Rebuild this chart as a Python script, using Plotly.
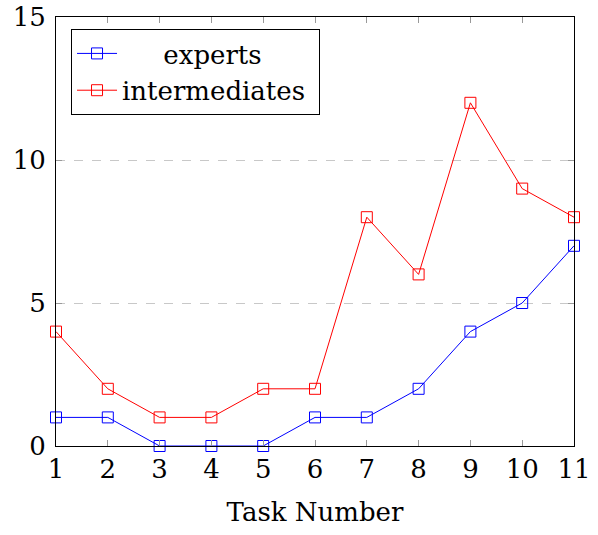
import plotly.graph_objects as go

tasks = [1, 2, 3, 4, 5, 6, 7, 8, 9, 10, 11]
experts = [1, 1, 0, 0, 0, 1, 1, 2, 4, 5, 7]
intermediates = [4, 2, 1, 1, 2, 2, 8, 6, 12, 9, 8]
series_names = ["\u00a0\u00a0\u00a0\u00a0\u00a0experts", "intermediates\u00a0"]

FONT = "DejaVu Serif"
FS = 26

fig = go.Figure()
fig.add_trace(go.Scatter(x=tasks, y=experts, name=series_names[0], mode="lines+markers",
                         line=dict(color="blue", width=1),
                         marker=dict(symbol="square-open", size=11, color="blue", line=dict(width=1)),
                         cliponaxis=False))
fig.add_trace(go.Scatter(x=tasks, y=intermediates, name=series_names[1], mode="lines+markers",
                         line=dict(color="red", width=1),
                         marker=dict(symbol="square-open", size=11, color="red", line=dict(width=1)),
                         cliponaxis=False))

fig.update_layout(
    width=598, height=535,
    margin=dict(l=56, r=24, t=17, b=89),
    paper_bgcolor="white", plot_bgcolor="white",
    font=dict(family=FONT, size=FS, color="black"),
    showlegend=True,
    legend=dict(x=0.029, y=0.972, xanchor="left", yanchor="top",
                bordercolor="black", borderwidth=1, bgcolor="white",
                font=dict(family=FONT, size=FS), tracegroupgap=0, itemwidth=40),
    xaxis=dict(range=[1, 11], tickvals=tasks, ticks="inside", ticklen=6, tickcolor="#999",
               showline=True, linecolor="black", linewidth=1, mirror="ticks",
               showgrid=False, zeroline=False, automargin=False, ticklabeloverflow="allow",
               title=dict(text="Task Number", font=dict(size=FS), standoff=19)),
    yaxis=dict(range=[0, 15], tickvals=[0, 5, 10, 15], ticks="inside", ticklen=6, tickcolor="#999",
               showline=True, linecolor="black", linewidth=1, mirror="ticks", automargin=False,
               ticklabeloverflow="allow", ticklabelstandoff=4,
               showgrid=True, gridcolor="#c8c8c8", griddash="dash", gridwidth=1, zeroline=False),
)
fig.write_html("out.html", config={"displayModeBar": False},
               post_script="document.body.style.margin='0';")
